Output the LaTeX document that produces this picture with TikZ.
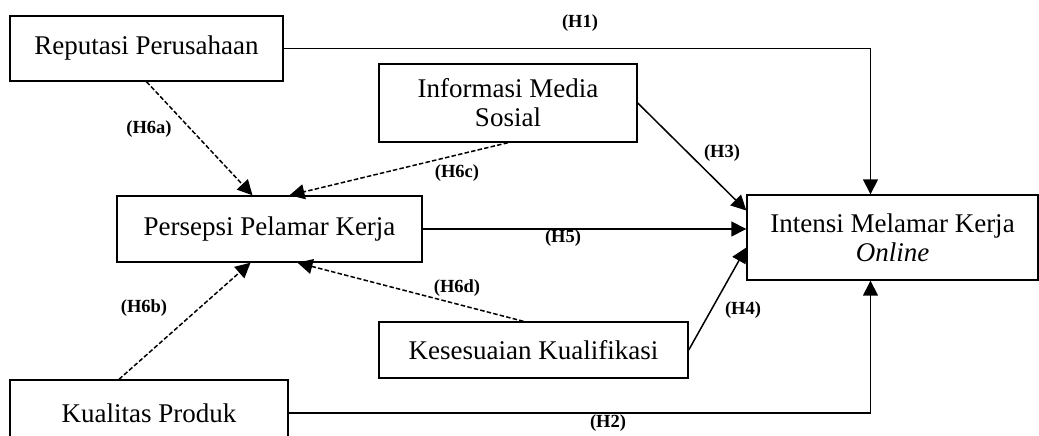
\documentclass[tikz,border=0pt]{standalone}
\usepackage{fontspec}
\setmainfont{Liberation Serif}
\usetikzlibrary{arrows.meta,positioning}

\begin{document}
\begin{tikzpicture}[
  x=1pt, y=-1pt,
  box/.style={draw, line width=1.4pt, align=center, inner sep=0pt,
    font=\fontsize{27}{29}\selectfont},
  arr/.style={-{Triangle[length=15pt,width=15pt]}, line width=1.5pt},
  darr/.style={arr, dash pattern=on 4.5pt off 2.2pt},
  hyp/.style={font=\fontsize{18.5}{20}\selectfont\bfseries}
]
\useasboundingbox (0,0) rectangle (1039,436);

% variables
\node[box, minimum width=273pt, minimum height=65pt] (rep) at (146.5,48.5) {Reputasi Perusahaan};
\node[box, minimum width=258pt, minimum height=78pt] (info) at (508,103) {Informasi Media\\Sosial};
\node[box, minimum width=305pt, minimum height=66pt] (pers) at (269.5,229) {Persepsi Pelamar Kerja};
\node[box, minimum width=291pt, minimum height=85pt] (int) at (892.5,237.5) {Intensi Melamar Kerja\\\textit{Online}};
\node[box, minimum width=309pt, minimum height=56pt] (kes) at (533.5,350) {Kesesuaian Kualifikasi};
\node[box, minimum width=278pt, minimum height=66pt] (kual) at (149,413) {Kualitas Produk};

% direct effects
\draw[arr] (rep.east) -| ([xshift=-22pt]int.north);
\draw[arr] (kual.east) -| ([xshift=-22pt]int.south);
\draw[arr] (info.east) -- ([yshift=27pt]int.west);
\draw[arr] (pers.east) -- (int.west |- pers.east);
\draw[arr] (kes.east) -- ([yshift=-10pt]int.west);

% effects on perception
\draw[darr] (rep.south) -- ([xshift=-17pt]pers.north);
\draw[darr] (info.south) -- ([xshift=20pt]pers.north);
\draw[darr] ([xshift=-30pt]kual.north) -- ([xshift=-19pt]pers.south);
\draw[darr] ([xshift=-10pt]kes.north) -- ([xshift=28pt]pers.south);

% hypothesis labels
\node[hyp] (h1) at (580,23) {(H1)};
\node[hyp] (h2) at (608,423) {(H2)};
\node[hyp] (h3) at (722,153) {(H3)};
\node[hyp] (h4) at (743,310) {(H4)};
\node[hyp] (h5) at (563,238) {(H5)};
\node[hyp] (h6a) at (149,129) {(H6a)};
\node[hyp] (h6b) at (144,308) {(H6b)};
\node[hyp] (h6c) at (457,173) {(H6c)};
\node[hyp] (h6d) at (457,288) {(H6d)};
\end{tikzpicture}
\end{document}
